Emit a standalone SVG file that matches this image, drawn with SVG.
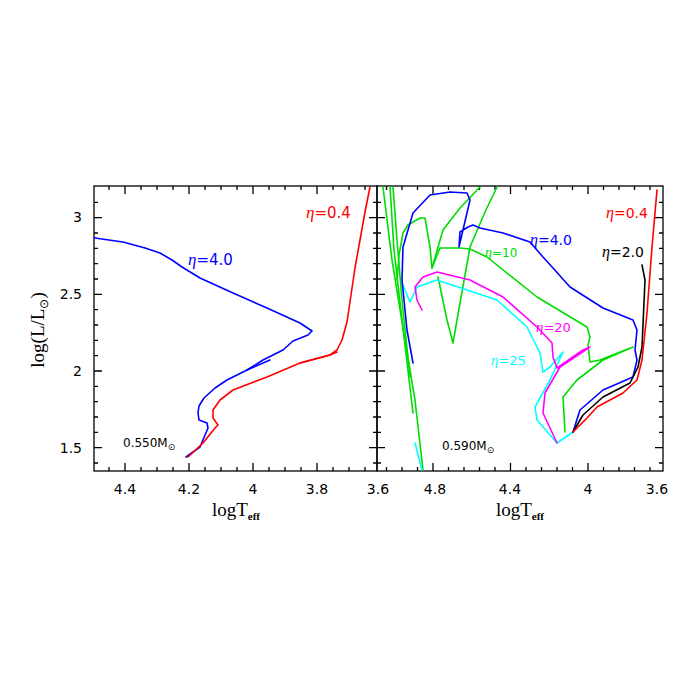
<svg xmlns="http://www.w3.org/2000/svg" width="678" height="678" viewBox="0 0 678 678">
<style>
.ax{fill:none;stroke:#000;stroke-width:1.3}
.c{fill:none;stroke-width:1.6;stroke-linejoin:round;stroke-linecap:round}
.t{font-family:"DejaVu Sans",sans-serif;font-size:14px;fill:#000}
.lb{font-family:"Liberation Serif",serif}
</style>
<rect width="678" height="678" fill="#fff"/>
<g id="frames" class="ax">
<rect x="94" y="186" width="283" height="285"/>
<rect x="377" y="186" width="286" height="285"/>
<path d="M109,186v4M125,186v8M141,186v4M157,186v4M173,186v4M189,186v8M205,186v4M221,186v4M237,186v4M253,186v8M269,186v4M285,186v4M301,186v4M317,186v8M333,186v4M349,186v4M365,186v4
M109,471v-4M125,471v-8M141,471v-4M157,471v-4M173,471v-4M189,471v-8M205,471v-4M221,471v-4M237,471v-4M253,471v-8M269,471v-4M285,471v-4M301,471v-4M317,471v-8M333,471v-4M349,471v-4M365,471v-4"/>
<path d="M386.5,186v4M402,186v4M417.5,186v4M433,186v8M448.5,186v4M464,186v4M479.5,186v4M495,186v4M510.5,186v8M526,186v4M541.5,186v4M557,186v4M572.5,186v4M588,186v8M603.5,186v4M619,186v4M634.5,186v4M650,186v4
M386.5,471v-4M402,471v-4M417.5,471v-4M433,471v-8M448.5,471v-4M464,471v-4M479.5,471v-4M495,471v-4M510.5,471v-8M526,471v-4M541.5,471v-4M557,471v-4M572.5,471v-4M588,471v-8M603.5,471v-4M619,471v-4M634.5,471v-4M650,471v-4"/>
<path d="M94,463h4M94,447.7h8M94,432.4h4M94,417h4M94,401.7h4M94,386.4h4M94,371h8M94,355.7h4M94,340.4h4M94,325h4M94,309.7h4M94,294.3h8M94,279h4M94,263.7h4M94,248.3h4M94,233h4M94,217.6h8M94,202.3h4
M377,463h-4M377,447.7h-8M377,432.4h-4M377,417h-4M377,401.7h-4M377,386.4h-4M377,371h-8M377,355.7h-4M377,340.4h-4M377,325h-4M377,309.7h-4M377,294.3h-8M377,279h-4M377,263.7h-4M377,248.3h-4M377,233h-4M377,217.6h-8M377,202.3h-4
M377,463h4M377,447.7h8M377,432.4h4M377,417h4M377,401.7h4M377,386.4h4M377,371h8M377,355.7h4M377,340.4h4M377,325h4M377,309.7h4M377,294.3h8M377,279h4M377,263.7h4M377,248.3h4M377,233h4M377,217.6h8M377,202.3h4
M663,463h-4M663,447.7h-8M663,432.4h-4M663,417h-4M663,401.7h-4M663,386.4h-4M663,371h-8M663,355.7h-4M663,340.4h-4M663,325h-4M663,309.7h-4M663,294.3h-8M663,279h-4M663,263.7h-4M663,248.3h-4M663,233h-4M663,217.6h-8M663,202.3h-4"/>
</g>
<g id="tick-labels" class="t">
<text x="82" y="222" text-anchor="end">3</text>
<text x="82" y="299" text-anchor="end">2.5</text>
<text x="82" y="376" text-anchor="end">2</text>
<text x="82" y="453" text-anchor="end">1.5</text>
<g text-anchor="middle">
<text x="125" y="494">4.4</text><text x="189" y="494">4.2</text><text x="253" y="494">4</text><text x="317" y="494">3.8</text><text x="378" y="494">3.6</text>
<text x="435" y="494">4.8</text><text x="510" y="494">4.4</text><text x="588" y="494">4</text><text x="657" y="494">3.6</text>
</g>
</g>
<g id="axis-titles" class="t">
<text class="lb" font-size="19" x="236" y="516" text-anchor="middle">logT<tspan font-size="11" font-weight="bold" dy="4">eff</tspan></text>
<text class="lb" font-size="19" x="520" y="516" text-anchor="middle">logT<tspan font-size="11" font-weight="bold" dy="4">eff</tspan></text>
<text class="lb" font-size="19" transform="translate(44,330) rotate(-90)" text-anchor="middle">log(L/L<tspan font-size="12" dy="4">⊙</tspan><tspan dy="-4">)</tspan></text>
</g>
<g id="curves-left">
<path class="c" stroke="#0000ff" d="M94,237.7L100,238.7L123,242L145,248L160,253L172,260L182,267L200,278L233,293L267,308L300,323L312,331L308,335L293,341L283,350L263,360L247,370L227,380L215,388L204,398L199,406L198,413L199,420L207,423L208,428L200,447L186,457"/>
<path class="c" stroke="#0000ff" stroke-width="2.5" d="M247,370L270,360"/>
<path class="c" stroke="#ff0000" d="M188,457L203,443L215,428L218,425L213,418L213,410L220,400L233,390L267,377L300,363L330,355L337,350L342,340L347,322L351,295L355,268L360,240L365,212L370,187"/>
<path class="c" stroke="#ff0000" stroke-width="3" d="M300,363L330,355L337,352"/>
</g>
<g id="curves-right">
<path class="c" stroke="#00dd00" d="M383,187L392,260L405,340L415,400L423,470"/>
<path class="c" stroke="#00dd00" d="M390,187L394,250L402,320L413,413"/>
<path class="c" stroke="#00dd00" d="M393,187L397,240L402,300L410,377"/>
<path class="c" stroke="#00dd00" d="M565,432L563,397L577,380L603,360L633,347L600,360L590,362L588,345L590,337L587,327L537,297L487,257L470,249L460,248L440,248L432,268L430,247L425,218L420,218L408,225L403,233L399,255L397,280"/>
<path class="c" stroke="#00dd00" d="M432,268L443,230L460,208L480,187"/>
<path class="c" stroke="#00dd00" d="M438,277L447,320L453,343L457,320L470,247L485,212L497,187"/>
<path class="c" stroke="#00ffff" d="M402,283L410,302L417,287L437,280L497,300L527,327L540,353L543,372L550,367L563,352L550,380L535,407L537,420L557,443L573,432"/>
<path class="c" stroke="#00ffff" d="M415,443L422,470"/>
<path class="c" stroke="#ff00ff" d="M422,310L417,300L415,287L423,277L437,272L470,280L503,297L537,327L552,343L553,357L557,368L583,350L590,347L560,367L545,393L543,413L557,443"/>
<path class="c" stroke="#0000ff" d="M573,432L580,410L603,390L633,377L637,360L635,350L637,330L633,320L603,308L570,287L553,268L543,257L530,242L503,233L480,228L473,225L468,227L460,232L459,247L470,200L467,193L450,192L430,195L413,213L403,247L402,280L407,330L413,363"/>
<path class="c" stroke="#000000" d="M573,432L583,415L603,397L630,383L638,367L642,347L645,280L642,265"/>
<path class="c" stroke="#ff0000" stroke-width="2" d="M573,432L587,418L597,407L623,393L637,380L642,360L647,313L652,247L657,190"/>
</g>
<g id="labels" class="t">
<text x="306" y="218" fill="#ff0000" font-size="15"><tspan font-family="Liberation Serif,serif" font-style="italic" font-size="17">η</tspan>=0.4</text>
<text x="188" y="265" fill="#0000ff" font-size="15"><tspan font-family="Liberation Serif,serif" font-style="italic" font-size="17">η</tspan>=4.0</text>
<text x="123" y="447" font-size="12">0.550M<tspan font-size="9" dy="3">⊙</tspan></text>
<text x="606" y="218" fill="#ff0000" font-size="14"><tspan font-family="Liberation Serif,serif" font-style="italic" font-size="16">η</tspan>=0.4</text>
<text x="530" y="245" fill="#0000ff" font-size="14"><tspan font-family="Liberation Serif,serif" font-style="italic" font-size="16">η</tspan>=4.0</text>
<text x="602" y="257" fill="#000" font-size="14"><tspan font-family="Liberation Serif,serif" font-style="italic" font-size="16">η</tspan>=2.0</text>
<text x="485" y="257" fill="#00dd00" font-size="12"><tspan font-family="Liberation Serif,serif" font-style="italic" font-size="14">η</tspan>=10</text>
<text x="536" y="332" fill="#ff00ff" font-size="13"><tspan font-family="Liberation Serif,serif" font-style="italic" font-size="15">η</tspan>=20</text>
<text x="491" y="365" fill="#00ffff" font-size="13"><tspan font-family="Liberation Serif,serif" font-style="italic" font-size="15">η</tspan>=25</text>
<text x="442" y="450" font-size="12">0.590M<tspan font-size="9" dy="3">⊙</tspan></text>
</g>
</svg>
